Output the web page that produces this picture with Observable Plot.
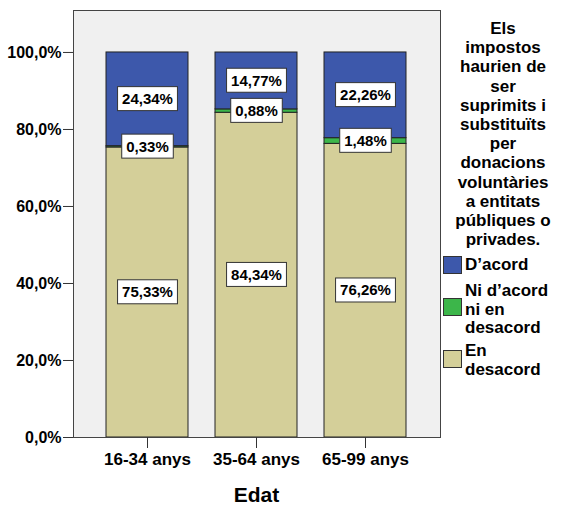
<!DOCTYPE html>
<html><head><meta charset="utf-8">
<script src="https://cdn.jsdelivr.net/npm/d3@7"></script>
<script src="https://cdn.jsdelivr.net/npm/@observablehq/plot@0.6"></script>
<style>
body{margin:0;background:#fff}
#wrap{position:relative;width:563px;height:507px;font-family:"Liberation Sans",Arial,sans-serif;color:#000}
#wrap svg{position:absolute;left:0;top:0}
.ltitle{position:absolute;left:443px;width:120px;top:19px;text-align:center;font-weight:bold;font-size:17px;line-height:19.2px}
.litem{position:absolute;left:465px;font-size:17px;font-weight:bold;line-height:18.5px;white-space:nowrap}
.sw{position:absolute;left:443px;width:17px;height:16px;border:1px solid #333}
.xtitle{position:absolute;left:0;width:513px;top:483px;text-align:center;font-weight:bold;font-size:21px}
</style>
</head><body><div id="wrap"></div>
<script>
const ages = ["16-34 anys", "35-64 anys", "65-99 anys"];
const responses = ["En desacord", "Ni d’acord ni en desacord", "D’acord"];
const enDesacord = [75.33, 84.34, 76.26];
const niNi = [0.33, 0.88, 1.48];
const dAcord = [24.34, 14.77, 22.26];
const colors = ["#d4cf99", "#3cb64a", "#3d58ab"];
const yTicks = [0, 20, 40, 60, 80, 100];
const legendTitle = ["Els", "impostos", "haurien de", "ser", "suprimits i", "substituïts", "per", "donacions", "voluntàries", "a entitats", "públiques o", "privades."];

const series = [enDesacord, niNi, dAcord];
const data = [];
ages.forEach((a, i) => responses.forEach((r, j) => data.push({age: a, resp: r, v: series[j][i]})));
const fmt = v => v.toFixed(2).replace(".", ",") + "%";

const chart = Plot.plot({
  width: 563, height: 507,
  marginLeft: 73, marginRight: 123, marginTop: 10, marginBottom: 70,
  style: {fontFamily: "Liberation Sans, Arial, sans-serif", background: "transparent", overflow: "visible"},
  x: {domain: ages, paddingInner: 0.2455, paddingOuter: 0.291},
  y: {domain: [0, 110.9]},
  color: {domain: responses, range: colors},
  marks: [
    Plot.frame({fill: "#f0f0f0", stroke: null}),
    Plot.barY(data, {x: "age", y: "v", fill: "resp", order: responses, stroke: "#222", strokeWidth: 1}),
    Plot.text(data, Plot.stackY({x: "age", y: "v", z: "resp", order: responses, text: d => fmt(d.v), fontSize: 15, fontWeight: "bold", fill: "#000", className: "seglabel"})),
    Plot.frame({stroke: "#444", strokeWidth: 1}),
    Plot.axisY({ticks: yTicks, tickFormat: d => d.toFixed(1).replace(".", ",") + "%", tickSize: 10, tickPadding: 2, fontSize: 16, fontWeight: "bold", label: null, stroke: "#333"}),
    Plot.axisX({tickSize: 11, tickPadding: 4, fontSize: 17, fontWeight: "bold", label: null, stroke: "#333"})
  ]
});

const wrap = document.getElementById("wrap");
wrap.appendChild(chart);

// white boxes behind segment labels
chart.querySelectorAll("g.seglabel text, .seglabel text").forEach(t => {
  const bb = t.getBBox();
  const rect = document.createElementNS("http://www.w3.org/2000/svg", "rect");
  rect.setAttribute("x", bb.x - 4.5);
  rect.setAttribute("y", bb.y - 3.5);
  rect.setAttribute("width", bb.width + 9);
  rect.setAttribute("height", bb.height + 7);
  rect.setAttribute("fill", "#fff");
  rect.setAttribute("stroke", "#333");
  rect.setAttribute("stroke-width", "1");
  const tr = t.getAttribute("transform");
  if (tr) rect.setAttribute("transform", tr);
  t.parentNode.insertBefore(rect, t);
});

// legend
const lt = document.createElement("div");
lt.className = "ltitle";
lt.innerHTML = legendTitle.join("<br>");
wrap.appendChild(lt);

const legendItems = [
  {lines: ["D’acord"], color: colors[2], top: 256, swTop: 256},
  {lines: ["Ni d’acord", "ni en", "desacord"], color: colors[1], top: 282, swTop: 298},
  {lines: ["En", "desacord"], color: colors[0], top: 342, swTop: 350}
];
legendItems.forEach(it => {
  const sw = document.createElement("div");
  sw.className = "sw";
  sw.style.top = it.swTop + "px";
  sw.style.background = it.color;
  wrap.appendChild(sw);
  const tx = document.createElement("div");
  tx.className = "litem";
  tx.style.top = it.top + "px";
  tx.innerHTML = it.lines.join("<br>");
  wrap.appendChild(tx);
});

const xt = document.createElement("div");
xt.className = "xtitle";
xt.textContent = "Edat";
wrap.appendChild(xt);
</script>
</body></html>
